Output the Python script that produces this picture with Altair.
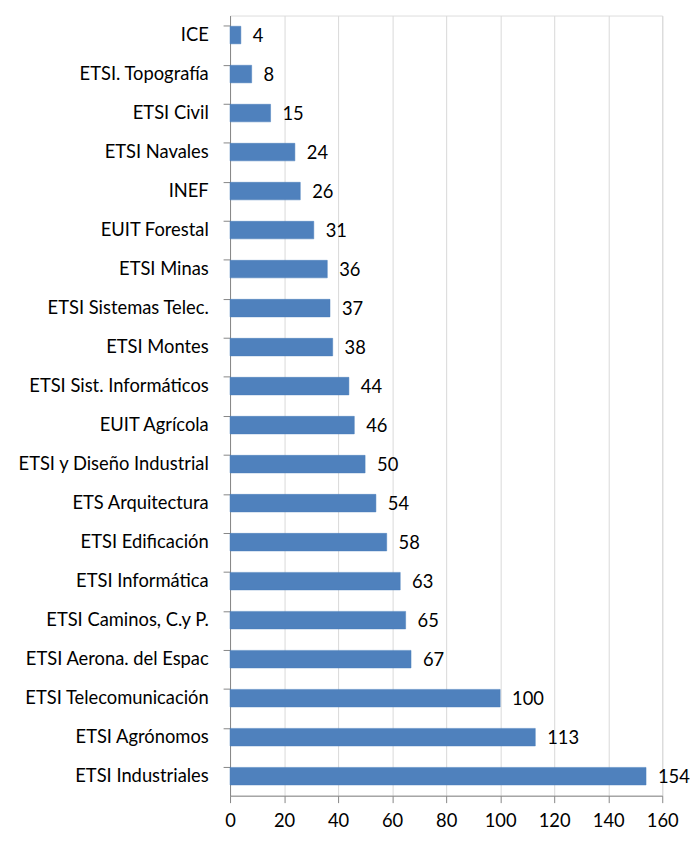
import altair as alt
import pandas as pd

categories = [
    "ICE", "ETSI. Topografía", "ETSI Civil", "ETSI Navales", "INEF",
    "EUIT Forestal", "ETSI Minas", "ETSI Sistemas Telec.", "ETSI Montes",
    "ETSI Sist.  Informáticos", "EUIT Agrícola", "ETSI y Diseño Industrial",
    "ETS Arquitectura", "ETSI Edificación", "ETSI Informática",
    "ETSI Caminos, C.y P.", "ETSI Aerona. del Espac", "ETSI Telecomunicación",
    "ETSI Agrónomos", "ETSI Industriales",
]
values = [4, 8, 15, 24, 26, 31, 36, 37, 38, 44, 46, 50, 54, 58, 63, 65, 67, 100, 113, 154]
x_ticks = [0, 20, 40, 60, 80, 100, 120, 140, 160]

df = pd.DataFrame({"centro": categories, "valor": values})

FONT = "Lato"
FS = 18.5

y_enc = alt.Y(
    "centro:N",
    sort=categories,
    scale=alt.Scale(paddingInner=0.55, paddingOuter=0.275),
    axis=alt.Axis(
        title=None,
        bandPosition=0,
        domainColor="#868686",
        tickColor="#868686",
        tickSize=7,
        labelPadding=15,
        labelFont=FONT,
        labelFontSize=FS,
        labelColor="#000000",
        labelLimit=300,
        grid=False,
    ),
)

x_enc = alt.X(
    "valor:Q",
    scale=alt.Scale(domain=[0, 160], nice=False),
    axis=alt.Axis(
        title=None,
        values=x_ticks,
        domainColor="#868686",
        tickColor="#868686",
        tickSize=7,
        labelPadding=9,
        labelFlush=False,
        labelFont=FONT,
        labelFontSize=FS,
        labelColor="#000000",
        grid=True,
        gridColor="#D9D9D9",
        gridWidth=1,
    ),
)

bars = alt.Chart(df).mark_bar(color="#4F81BD", stroke="#4A7EBB", strokeWidth=0.5).encode(
    x=x_enc, y=y_enc
)

labels = alt.Chart(df).mark_text(
    align="left", baseline="middle", dx=12, dy=1, font=FONT, fontSize=FS, color="#000000"
).encode(
    x=alt.X("valor:Q"),
    y=alt.Y("centro:N", sort=categories),
    text=alt.Text("valor:Q"),
)

chart = (
    alt.layer(bars, labels)
    .properties(
        width=436,
        height=787,
        autosize=alt.AutoSizeParams(type="none"),
        padding={"left": 224, "top": 4, "right": 28, "bottom": 32},
    )
    .configure_view(stroke=None)
    .configure(background="#FFFFFF")
)

chart.save("out.html", embed_options={"renderer": "svg", "actions": False})
